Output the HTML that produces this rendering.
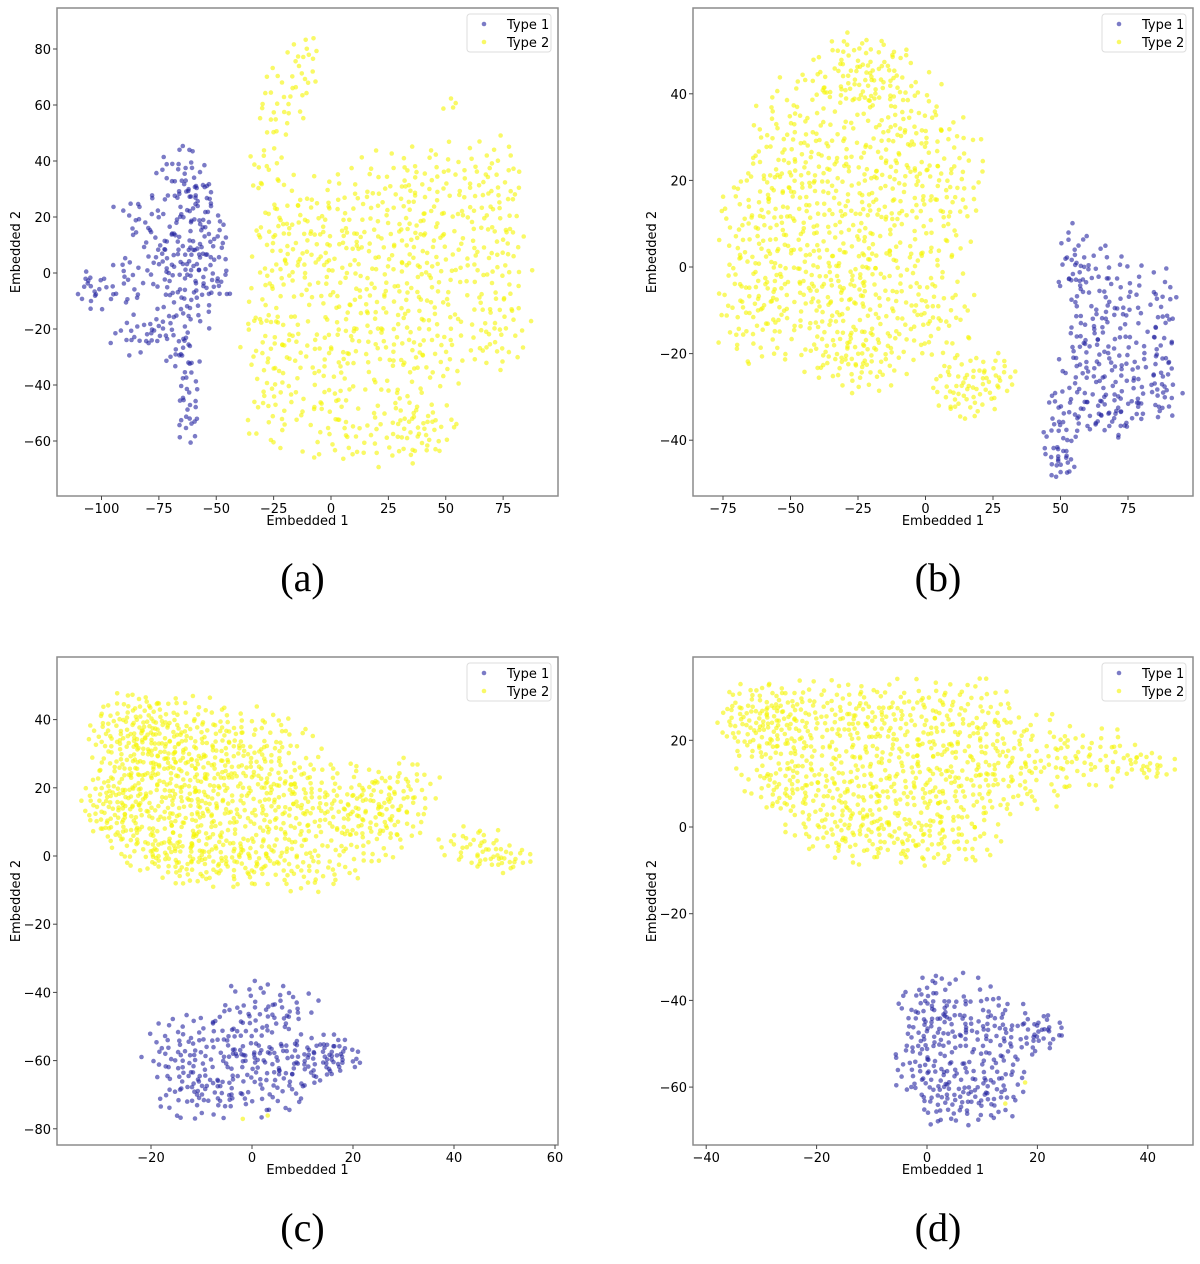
<!DOCTYPE html>
<html><head><meta charset="utf-8"><style>
body{margin:0;background:#fff}
svg text{font-family:"DejaVu Sans","Liberation Sans",sans-serif;fill:#000}
</style></head><body>
<svg id="fig" width="1200" height="1259" viewBox="0 0 1200 1259" xmlns="http://www.w3.org/2000/svg"></svg>
<script>
// ---- data: cluster blobs [centerX, centerY, spreadX, spreadY, count] in data units ----
const panelLabels = ["(a)", "(b)", "(c)", "(d)"];
const seriesNames = ["Type 1", "Type 2"];
const xTicksA = [-100, -75, -50, -25, 0, 25, 50, 75];
const yTicksA = [-60, -40, -20, 0, 20, 40, 60, 80];
const xTicksB = [-75, -50, -25, 0, 25, 50, 75];
const yTicksB = [-40, -20, 0, 20, 40];
const xTicksC = [-20, 0, 20, 40, 60];
const yTicksC = [-80, -60, -40, -20, 0, 20, 40];
const xTicksD = [-40, -20, 0, 20, 40];
const yTicksD = [-60, -40, -20, 0, 20];
const type1A = [[-65,35,6,6,30],[-60,20,6,8,30],[-80,20,8,5,25],[-75,5,8,6,30],[-95,-5,8,5,25],[-105,-6,3,3,10],[-85,-22,6,4,20],[-65,0,6,8,40],[-55,5,5,8,25],[-50,15,4,3,10],[-70,-20,6,6,30],[-63,-35,3,8,25],[-62,-52,3,5,15],[-55,-10,5,5,15],[-58,28,4,6,15],[-48,-2,3,6,10]];
const type2A = [[-12,75,4,6,20],[-22,60,6,7,25],[-28,40,5,6,15],[-15,20,10,10,40],[-25,0,6,15,40],[-28,-25,6,12,35],[-25,-50,6,8,25],[-5,5,10,12,60],[-5,-30,10,10,50],[0,-55,8,8,30],[20,25,12,10,60],[20,0,12,10,60],[20,-25,12,10,60],[25,-55,12,8,45],[45,30,10,10,50],[45,5,10,10,55],[45,-25,10,10,55],[40,-55,8,7,35],[70,30,8,10,50],[72,5,8,10,45],[72,-20,8,8,40],[52,60,2,2,4]];
const type1B = [[55,0,3,6,30],[62,-5,5,6,30],[75,-5,6,5,25],[88,-12,3,6,25],[70,-18,8,6,50],[58,-22,5,5,30],[80,-28,8,5,40],[62,-32,8,4,35],[50,-38,4,5,30],[50,-45,3,2,15],[88,-28,3,4,15],[70,-35,6,3,20]];
const type2B = [[-25,45,9,5,80],[-45,30,11,8,100],[-10,35,9,8,80],[-60,10,9,9,100],[-35,10,12,10,130],[-10,15,11,10,110],[10,20,7,9,60],[-65,-10,7,7,60],[-40,-10,11,8,100],[-15,-10,11,8,90],[5,-10,7,8,50],[-25,-22,9,4,50],[15,-28,7,4,55],[27,-25,4,3,18]];
const type1C = [[-12,-58,5,6,80],[-10,-70,5,4,50],[0,-50,4,7,70],[3,-65,5,6,70],[8,-45,3,4,20],[12,-60,4,4,50],[17,-58,3,3,25]];
const type2C = [[-23,35,5,7,150],[-12,32,6,8,140],[2,30,6,7,100],[-27,15,3.5,6,100],[-15,15,6,8,150],[0,12,7,8,140],[15,15,7,7,120],[25,10,5,6,70],[-8,-2,7,4,90],[10,-3,7,4,70],[-19,2,5,4,50],[44,3,4,3,35],[50,-1,3.5,2,25],[30,20,4,5,40],[-1.5,-77,0.2,0.2,1],[3,-76,0.2,0.2,1]];
const type1D = [[0,-42,3,4,40],[6,-45,5,6,80],[-1,-55,3,4,45],[15,-48,5,4,60],[5,-62,4,4,70],[13,-60,3,4,40],[21,-47,2,2,15]];
const type2D = [[-30,25,4.5,4.5,110],[-18,25,6,5,100],[-5,25,6,5,90],[8,25,6,5,75],[-27,12,4,5,60],[-18,8,6,6,110],[-5,10,6,6,110],[8,10,6,6,100],[18,15,6,6,75],[-12,-2,6,3.5,70],[2,-3,6,3.5,70],[30,16,5,4,50],[40,14,3,2,25],[14,-64,0.2,0.2,1],[18,-59,0.2,0.2,1]];

const NS = "http://www.w3.org/2000/svg";
const svg = document.getElementById("fig");
function mk(tag, attrs, parent){const e=document.createElementNS(NS,tag);for(const k in attrs)e.setAttribute(k,attrs[k]);(parent||svg).appendChild(e);return e;}
function halton(i,b){let f=1,r=0;while(i>0){f/=b;r+=f*(i%b);i=Math.floor(i/b);}return r;}

const panels = [
 {box:[57,8,558,496], xd:[0,331,2.295], yd:[0,273,2.8], xt:xTicksA, yt:yTicksA, s1:type1A, s2:type2A, lab:0},
 {box:[693,8,1193,496], xd:[0,925.5,2.70], yd:[0,267,4.33], xt:xTicksB, yt:yTicksB, s1:type1B, s2:type2B, lab:1},
 {box:[57,657,558,1145], xd:[0,252,5.05], yd:[0,856,3.41], xt:xTicksC, yt:yTicksC, s1:type1C, s2:type2C, lab:2},
 {box:[693,657,1193,1145], xd:[0,927,5.52], yd:[0,827,4.335], xt:xTicksD, yt:yTicksD, s1:type1D, s2:type2D, lab:3}
];
const colors = ["rgba(35,35,160,0.6)","rgba(245,245,0,0.6)"];
let seq = 1;
panels.forEach((p,pi)=>{
  const [L,T,R,B]=p.box;
  const sx=v=>p.xd[1]+v*p.xd[2];
  const sy=v=>p.yd[1]-v*p.yd[2];
  const g=mk("g",{});
  
  
  const clipId="clip"+pi;
  const cp=mk("clipPath",{id:clipId},g); mk("rect",{x:L,y:T,width:R-L,height:B-T},cp);
  const pts=mk("g",{"clip-path":"url(#"+clipId+")"},g);
  
  
  [p.s2,p.s1].forEach((blobs,si)=>{
    const col = si===0?colors[1]:colors[0];
    blobs.forEach(bl=>{
      for(let k=0;k<bl[4];k++){
        seq++;
        const u1=Math.max(halton(seq,2),1e-4), u2=halton(seq,3);
        let r=Math.sqrt(-2*Math.log(u1)); if(r>2.0) r=2.0*(0.6+0.4*halton(seq,5));
        const a=2*Math.PI*u2;
        const x=bl[0]+bl[2]*r*Math.cos(a), y=bl[1]+bl[3]*r*Math.sin(a);
        const c=mk("circle",{cx:sx(x).toFixed(1),cy:sy(y).toFixed(1),r:2.3,fill:col},pts);
        
        
      }
    });
  });
  const fr=mk("rect",{x:L,y:T,width:R-L,height:B-T,fill:"none",stroke:"#8c8c8c","stroke-width":1.5},g);
  
  
  p.xt.forEach(v=>{
    const x=sx(v);
    mk("line",{x1:x,y1:B,x2:x,y2:B+4,stroke:"#444","stroke-width":1},g);
    const t=mk("text",{x:x,y:B+17,"font-size":13,"text-anchor":"middle"},g);
    t.textContent=(v<0?"\u2212"+(-v):String(v));
    
    
  });
  p.yt.forEach(v=>{
    const y=sy(v);
    mk("line",{x1:L-4,y1:y,x2:L,y2:y,stroke:"#444","stroke-width":1},g);
    const t=mk("text",{x:L-6,y:y+5,"font-size":13,"text-anchor":"end"},g);
    t.textContent=(v<0?"\u2212"+(-v):String(v));
    
    
  });
  const xl=mk("text",{x:(L+R)/2,y:B+29,"font-size":13,"text-anchor":"middle"},g);
  xl.textContent="Embedded 1";
  
  
  const yx=L-37, yc=(T+B)/2;
  const yl=mk("text",{x:yx,y:yc,"font-size":13,"text-anchor":"middle",transform:"rotate(-90 "+yx+" "+yc+")"},g);
  yl.textContent="Embedded 2";
  
  
  const lg=mk("g",{},g);
  
  
  mk("rect",{x:R-91,y:T+6,width:84,height:38,rx:3,fill:"#fff",stroke:"#ddd","stroke-width":1},lg);
  seriesNames.forEach((nm,i)=>{
    const yy=T+16+i*18;
    mk("circle",{cx:R-74,cy:yy,r:2.3,fill:colors[i]},lg);
    const t=mk("text",{x:R-51,y:yy+5,"font-size":13},lg);
    t.textContent=nm;
    
    
  });
  const pl=mk("text",{x:(L+R)/2-5,y:(pi<2?591:1241),"font-size":40,"text-anchor":"middle",style:"font-family:'Liberation Serif',serif"},g);
  pl.textContent=panelLabels[p.lab];
  
  
});
</script>
</body></html>
